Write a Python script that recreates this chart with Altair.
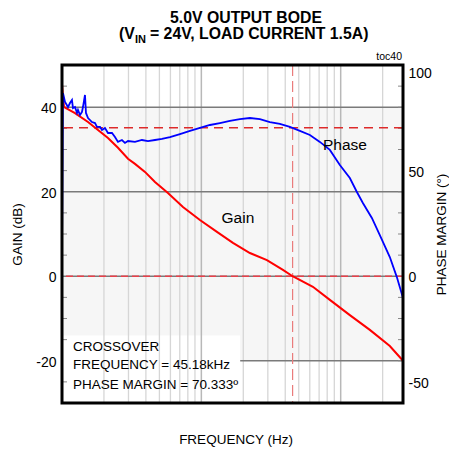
import altair as alt
import pandas as pd

# ---------------- data ----------------
freq_gain = [1000, 1033, 1068, 1240, 1537, 1813, 2138, 2522, 2975, 3340,
             3940, 4647, 5760, 7379, 9770, 12941, 16856, 22310, 29554, 38500,
             45180, 63180, 83611, 116332, 161857, 225192, 280000]
gain_db = [45.3, 40.1, 39.8, 38.6, 36.5, 34.6, 32.7, 30.4, 27.8, 26.6,
           24.7, 22.3, 19.7, 16.4, 13.3, 10.5, 7.9, 5.5, 3.8, 1.5,
           0.0, -2.5, -5.6, -9.2, -12.7, -16.5, -20.0]

freq_phase = [1000, 1017, 1051, 1104, 1141, 1179, 1199, 1240, 1281, 1302,
              1346, 1391, 1414, 1462, 1486, 1537, 1641, 1725, 1783, 1874,
              1936, 2034, 2138, 2284, 2400, 2522, 2692, 2831, 2975, 3340,
              3747, 4141, 4647, 5215, 5954, 7023, 8283, 9770, 11525, 13594,
              16035, 18914, 22310, 26316, 31042, 36615, 43190, 50945, 60093, 70883,
              83611, 98624, 116332, 130700, 144300, 167400, 190919, 225192, 252900, 280000]
phase_deg = [12.0, 86.7, 82.5, 80.1, 82.0, 83.4, 79.6, 80.1, 77.3, 78.7,
             76.3, 77.8, 80.1, 85.8, 77.3, 74.9, 73.0, 72.5, 70.7, 70.7,
             69.2, 70.2, 67.8, 67.8, 65.9, 63.6, 64.5, 63.1, 64.0, 63.6,
             64.5, 64.0, 64.5, 65.0, 65.9, 67.3, 68.8, 70.2, 71.6, 72.5,
             73.5, 74.4, 74.9, 74.4, 73.0, 72.1, 70.7, 68.8, 66.9, 63.6,
             59.8, 52.7, 46.5, 39.9, 34.7, 27.6, 19.5, 9.1, -0.4, -10.3]

crossover_freq = 45180
phase_margin = 70.333

x_tick_values = [1000, 10000, 100000]
x_tick_labels = ["1K", "10k", "100k"]
gain_ticks = [-20, 0, 20, 40]
phase_ticks = [-50, 0, 50, 100]
gain_minor = [45, 35, 30, 25, 15, 10, 5, -5, -10, -15, -25]
phase_minor = [90, 80, 70, 60, 40, 30, 20, 10, -10, -20, -30, -40]

grid_minor_freqs = [2000, 3000, 4000, 5000, 6000, 7000, 8000, 9000,
                    20000, 30000, 40000, 50000, 60000, 70000, 80000, 90000, 200000]
grid_major_freqs = [10000, 100000]
hgrid_gain = [40, 20, 0, -20]
hgrid_start = [1000, 1000, 1000, 19000]
hgrid_end = [280000, 280000, 280000, 280000]

band_range = [-20, 40]
note_box = [1000, 19000, -30, -14]
note_lines = ["CROSSOVER", "FREQUENCY = 45.18kHz", "PHASE MARGIN = 70.333\u00ba"]
note_freq = [1199, 1199, 1199]
note_gain = [-16.7, -21.0, -25.7]

title1 = "5.0V OUTPUT BODE"
title2_a = "(V"
title2_sub = "IN"
title2_b = "= 24V, LOAD CURRENT 1.5A)"
toc = "toc40"
x_title = "FREQUENCY  (Hz)"

# ---------------- chart ----------------
FONT = "Liberation Sans, Arial, sans-serif"
W, H = 341, 338

xs = alt.Scale(type="log", domain=[1000, 280000])
gs = alt.Scale(domain=[-30, 50])
ps = alt.Scale(domain=[-60, 100])

label_expr = " : ".join(
    f"datum.value == {v} ? '{t}'" for v, t in zip(x_tick_values, x_tick_labels)
) + " : ''"

x_axis = alt.Axis(values=x_tick_values, labelExpr=label_expr, grid=False, ticks=False,
                  tickSize=0, domain=False, labelFlush=False, labelPadding=16,
                  labelBaseline="middle", labelFont=FONT, labelFontSize=14,
                  labelColor="black", title=None)

left_axis = alt.Axis(orient="left", values=gain_ticks, labelExpr="'' + datum.value",
                     grid=False, ticks=False, tickSize=0,
                     domain=False, labelPadding=6, labelBaseline="middle", labelOffset=1.5,
                     labelFont=FONT, labelFontSize=14, labelColor="black",
                     title="GAIN (dB)", titleFont=FONT, titleFontSize=13.5,
                     titleFontWeight="normal", titleColor="black", titleAngle=270,
                     titleX=-45, titleY=169, titleAlign="center", titleBaseline="middle")

right_axis = alt.Axis(orient="right", values=phase_ticks, labelExpr="'' + datum.value",
                      grid=False, ticks=False, tickSize=0,
                      domain=False, labelPadding=5, labelOffset=1.5,
                      labelFlush=True, labelFont=FONT, labelFontSize=14, labelColor="black",
                      title="PHASE MARGIN (\u00b0)", titleFont=FONT, titleFontSize=13.5,
                      titleFontWeight="normal", titleColor="black", titleAngle=270,
                      titleX=38.5, titleY=169, titleAlign="center", titleBaseline="middle")

gain_df = pd.DataFrame({"f": freq_gain, "g": gain_db})
phase_df = pd.DataFrame({"f": freq_phase, "p": phase_deg})

band = alt.Chart(pd.DataFrame({"f0": [1000], "f1": [280000],
                               "g0": [band_range[0]], "g1": [band_range[1]]})).mark_rect(
    color="#f6f6f6").encode(
    x=alt.X("f0:Q", scale=xs, axis=x_axis), x2="f1:Q",
    y=alt.Y("g0:Q", scale=gs, axis=left_axis), y2="g1:Q")

box = alt.Chart(pd.DataFrame({"f0": [note_box[0]], "f1": [note_box[1]],
                              "g0": [note_box[2]], "g1": [note_box[3]]})).mark_rect(
    color="white").encode(
    x=alt.X("f0:Q", scale=xs, axis=None), x2="f1:Q",
    y=alt.Y("g0:Q", scale=gs, axis=None), y2="g1:Q")

vgrid_minor = alt.Chart(pd.DataFrame({"f": grid_minor_freqs})).mark_rule(
    color="#d6d6d6", strokeWidth=1.3).encode(x=alt.X("f:Q", scale=xs, axis=None))
vgrid_major = alt.Chart(pd.DataFrame({"f": grid_major_freqs})).mark_rule(
    color="#b8b8b8", strokeWidth=1.5).encode(x=alt.X("f:Q", scale=xs, axis=None))

hgrid = alt.Chart(pd.DataFrame({"g": hgrid_gain, "f0": hgrid_start, "f1": hgrid_end})).mark_rule(
    color="#7a7a7a", strokeWidth=1.5).encode(
    x=alt.X("f0:Q", scale=xs, axis=None), x2="f1:Q",
    y=alt.Y("g:Q", scale=gs, axis=None))

ticks_left = alt.Chart(pd.DataFrame({"g": gain_minor})).mark_rule(
    color="#888888", strokeWidth=1).encode(
    x=alt.value(0), x2=alt.value(5), y=alt.Y("g:Q", scale=gs, axis=None))
ticks_right = alt.Chart(pd.DataFrame({"p": phase_minor})).mark_rule(
    color="#888888", strokeWidth=1).encode(
    x=alt.value(W - 5), x2=alt.value(W), y=alt.Y("p:Q", scale=ps, axis=None))

zero_dash = alt.Chart(pd.DataFrame({"g": [0]})).mark_rule(
    color="#e8404a", strokeWidth=1.5, strokeDash=[7, 4]).encode(
    y=alt.Y("g:Q", scale=gs, axis=None))
pm_dash = alt.Chart(pd.DataFrame({"p": [phase_margin]})).mark_rule(
    color="#dd2a2a", strokeWidth=1.5, strokeDash=[9, 6]).encode(
    y=alt.Y("p:Q", scale=ps, axis=None))
xo_dash = alt.Chart(pd.DataFrame({"f": [crossover_freq]})).mark_rule(
    color="#ea7c7c", strokeWidth=1.2, strokeDash=[11, 5]).encode(
    x=alt.X("f:Q", scale=xs, axis=None))

gain_line = alt.Chart(gain_df).mark_line(color="#ff0000", strokeWidth=2).encode(
    x=alt.X("f:Q", scale=xs, axis=None), y=alt.Y("g:Q", scale=gs, axis=None))
phase_line = alt.Chart(phase_df).mark_line(color="#0000ff", strokeWidth=1.8).encode(
    x=alt.X("f:Q", scale=xs, axis=None), y=alt.Y("p:Q", scale=ps, axis=right_axis))

gain_text = alt.Chart(pd.DataFrame({"f": [18300], "g": [13.8], "t": ["Gain"]})).mark_text(
    font=FONT, fontSize=15.5, color="black", baseline="middle", align="center").encode(
    x=alt.X("f:Q", scale=xs, axis=None), y=alt.Y("g:Q", scale=gs, axis=None), text="t:N")
phase_text = alt.Chart(pd.DataFrame({"f": [107200], "p": [62.1], "t": ["Phase"]})).mark_text(
    font=FONT, fontSize=15.5, color="black", baseline="middle", align="center").encode(
    x=alt.X("f:Q", scale=xs, axis=None), y=alt.Y("p:Q", scale=ps, axis=None), text="t:N")

note_text = alt.Chart(pd.DataFrame({"f": note_freq, "g": note_gain, "t": note_lines})).mark_text(
    font=FONT, fontSize=13.5, color="black", baseline="middle", align="left").encode(
    x=alt.X("f:Q", scale=xs, axis=None), y=alt.Y("g:Q", scale=gs, axis=None), text="t:N")

def label(txt, x, y, size, weight="normal", align="left", baseline="alphabetic"):
    return alt.Chart(pd.DataFrame({"t": [txt]})).mark_text(
        font=FONT, fontSize=size, fontWeight=weight, color="black",
        align=align, baseline=baseline).encode(
        x=alt.value(x), y=alt.value(y), text="t:N")

t1 = label(title1, 184, -42, 15.8, "bold", "center")
t2a = label(title2_a, 57, -26, 15.8, "bold")
t2s = label(title2_sub, 73, -22, 11, "bold")
t2b = label(title2_b, 88, -26, 15.8, "bold")
toc_t = label(toc, 340, -5, 10.5, "normal", "right")
xt = label(x_title, 174, H + 41, 13.5, "normal", "center")

frame = alt.Chart(pd.DataFrame({"a": [0]})).mark_rect(
    fillOpacity=0, stroke="black", strokeWidth=3).encode(
    x=alt.value(0), x2=alt.value(W), y=alt.value(0), y2=alt.value(H))

chart = alt.layer(
    band, box, vgrid_minor, vgrid_major, hgrid, ticks_left, ticks_right,
    zero_dash, pm_dash, xo_dash, gain_line, phase_line,
    gain_text, phase_text, note_text, t1, t2a, t2s, t2b, toc_t, xt, frame
).resolve_scale(y="independent").properties(
    width=W, height=H,
    autosize=alt.AutoSizeParams(type="none"),
    padding={"left": 54, "top": 57, "right": 46, "bottom": 45},
).configure_view(stroke=None)

chart.save("out.html", embed_options={"renderer": "svg", "actions": False})
